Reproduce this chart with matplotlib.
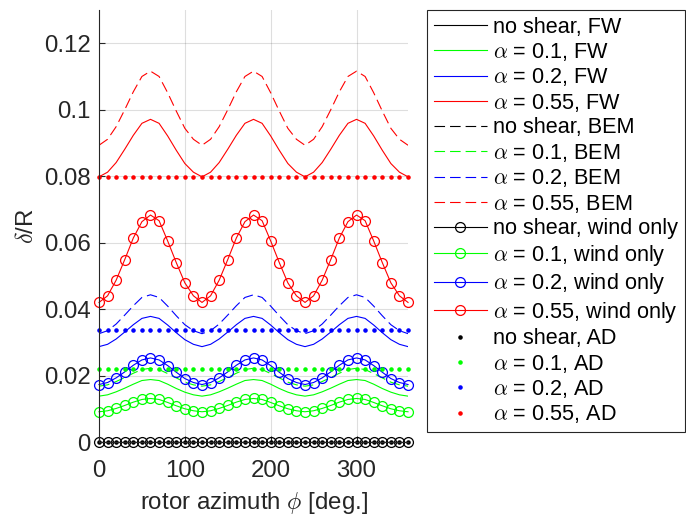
import numpy as np
import matplotlib
matplotlib.use("Agg")
import matplotlib.pyplot as plt

plt.rcParams['font.family'] = ['Liberation Sans', 'DejaVu Sans']
plt.rcParams['mathtext.fontset'] = 'cm'

# rotor azimuth [deg], one point every 10 deg
phi = np.arange(0, 361, 10)

no_shear = [0.0] * 37

fw_01 = [0.0138, 0.0142, 0.0151, 0.0162, 0.0174, 0.0185, 0.0188, 0.0185, 0.0174, 0.0161, 0.0150, 0.0142,
         0.0138, 0.0142, 0.0151, 0.0162, 0.0174, 0.0185, 0.0188, 0.0185, 0.0174, 0.0161, 0.0150, 0.0142,
         0.0138, 0.0142, 0.0151, 0.0162, 0.0174, 0.0185, 0.0188, 0.0185, 0.0174, 0.0161, 0.0150, 0.0142, 0.0138]
fw_02 = [0.0287, 0.0294, 0.0310, 0.0331, 0.0353, 0.0372, 0.0378, 0.0372, 0.0352, 0.0329, 0.0308, 0.0294,
         0.0287, 0.0294, 0.0310, 0.0331, 0.0353, 0.0372, 0.0378, 0.0372, 0.0352, 0.0329, 0.0308, 0.0294,
         0.0287, 0.0294, 0.0310, 0.0331, 0.0353, 0.0372, 0.0378, 0.0372, 0.0352, 0.0329, 0.0308, 0.0294, 0.0287]
fw_055 = [0.0798, 0.0812, 0.0841, 0.0881, 0.0923, 0.0959, 0.0971, 0.0959, 0.0921, 0.0878, 0.0838, 0.0812,
          0.0798, 0.0812, 0.0841, 0.0881, 0.0923, 0.0959, 0.0971, 0.0959, 0.0921, 0.0878, 0.0838, 0.0812,
          0.0798, 0.0812, 0.0841, 0.0881, 0.0923, 0.0959, 0.0971, 0.0959, 0.0921, 0.0878, 0.0838, 0.0812, 0.0798]

bem_01 = [0.0168, 0.0172, 0.0182, 0.0194, 0.0207, 0.0218, 0.0222, 0.0218, 0.0206, 0.0193, 0.0180, 0.0172,
          0.0168, 0.0172, 0.0182, 0.0194, 0.0207, 0.0218, 0.0222, 0.0218, 0.0206, 0.0193, 0.0180, 0.0172,
          0.0168, 0.0172, 0.0182, 0.0194, 0.0207, 0.0218, 0.0222, 0.0218, 0.0206, 0.0193, 0.0180, 0.0172, 0.0168]
bem_02 = [0.0326, 0.0335, 0.0355, 0.0382, 0.0410, 0.0435, 0.0443, 0.0435, 0.0409, 0.0380, 0.0353, 0.0335,
          0.0326, 0.0335, 0.0355, 0.0382, 0.0410, 0.0435, 0.0443, 0.0435, 0.0409, 0.0380, 0.0353, 0.0335,
          0.0326, 0.0335, 0.0355, 0.0382, 0.0410, 0.0435, 0.0443, 0.0435, 0.0409, 0.0380, 0.0353, 0.0335, 0.0326]
bem_055 = [0.0893, 0.0911, 0.0949, 0.1000, 0.1054, 0.1100, 0.1116, 0.1100, 0.1051, 0.0996, 0.0944, 0.0911,
           0.0893, 0.0911, 0.0949, 0.1000, 0.1054, 0.1100, 0.1116, 0.1100, 0.1051, 0.0996, 0.0944, 0.0911,
           0.0893, 0.0911, 0.0949, 0.1000, 0.1054, 0.1100, 0.1116, 0.1100, 0.1051, 0.0996, 0.0944, 0.0911, 0.0893]

wind_01 = [0.0091, 0.0094, 0.0101, 0.0110, 0.0120, 0.0128, 0.0131, 0.0128, 0.0119, 0.0109, 0.0100, 0.0094,
           0.0091, 0.0094, 0.0101, 0.0110, 0.0120, 0.0128, 0.0131, 0.0128, 0.0119, 0.0109, 0.0100, 0.0094,
           0.0091, 0.0094, 0.0101, 0.0110, 0.0120, 0.0128, 0.0131, 0.0128, 0.0119, 0.0109, 0.0100, 0.0094, 0.0091]
wind_02 = [0.0173, 0.0179, 0.0193, 0.0211, 0.0231, 0.0247, 0.0253, 0.0247, 0.0230, 0.0210, 0.0191, 0.0179,
           0.0173, 0.0179, 0.0193, 0.0211, 0.0231, 0.0247, 0.0253, 0.0247, 0.0230, 0.0210, 0.0191, 0.0179,
           0.0173, 0.0179, 0.0193, 0.0211, 0.0231, 0.0247, 0.0253, 0.0247, 0.0230, 0.0210, 0.0191, 0.0179, 0.0173]
wind_055 = [0.0420, 0.0440, 0.0487, 0.0549, 0.0614, 0.0663, 0.0683, 0.0666, 0.0605, 0.0540, 0.0479, 0.0440,
            0.0420, 0.0440, 0.0487, 0.0549, 0.0614, 0.0663, 0.0683, 0.0666, 0.0605, 0.0540, 0.0479, 0.0440,
            0.0420, 0.0440, 0.0487, 0.0549, 0.0614, 0.0663, 0.0683, 0.0666, 0.0605, 0.0540, 0.0479, 0.0440, 0.0420]

# actuator disc result: constant over azimuth
ad_levels = [0.0, 0.0221, 0.0338, 0.0796]

cases = ['no shear', r'$\alpha$ = 0.1', r'$\alpha$ = 0.2', r'$\alpha$ = 0.55']
colours = ['k', (0, 1, 0), (0, 0, 1), (1, 0, 0)]
fw = [no_shear, fw_01, fw_02, fw_055]
bem = [no_shear, bem_01, bem_02, bem_055]
wind = [no_shear, wind_01, wind_02, wind_055]

fig = plt.figure(figsize=(6.86, 5.16), dpi=100)
ax = fig.add_axes([0.1443, 0.1434, 0.4505, 0.8372])

lw = 0.8
for c, col, y in zip(cases, colours, fw):
    ax.plot(phi, y, '-', color=col, lw=lw, label=c + ', FW')
for c, col, y in zip(cases, colours, bem):
    ax.plot(phi, y, '--', color=col, lw=lw, dashes=(9.5, 4.5), label=c + ', BEM')
for c, col, y in zip(cases, colours, wind):
    ax.plot(phi, y, '-', color=col, lw=lw, marker='o', ms=7.1, mfc='none', mew=0.9,
            label=c + ', wind only', clip_on=False)
for c, col, lev in zip(cases, colours, ad_levels):
    ax.plot(phi, [lev] * len(phi), linestyle='none', color=col, marker='.', ms=4.5,
            label=c + ', AD', clip_on=False)

ax.set_xlim(0, 360)
ax.set_ylim(0, 0.13)
ax.set_xticks([0, 100, 200, 300])
ax.set_yticks([0, 0.02, 0.04, 0.06, 0.08, 0.1, 0.12])
ax.set_yticklabels(['0', '0.02', '0.04', '0.06', '0.08', '0.1', '0.12'])
ax.grid(True, color='#262626', alpha=0.15, lw=0.8)
ax.set_axisbelow(True)
for s in ['top', 'right']:
    ax.spines[s].set_visible(False)
for s in ['left', 'bottom']:
    ax.spines[s].set_color('#262626')
    ax.spines[s].set_linewidth(0.8)
ax.tick_params(direction='in', length=4, width=0.8, colors='#262626', labelsize=17.3, pad=6)
ax.tick_params(axis='x', pad=13)
ax.set_xlabel(r'rotor azimuth $\phi$ [deg.]', fontsize=17.3, color='#262626', labelpad=6)
ax.set_ylabel(r'$\delta$/R', fontsize=17.3, color='#262626', labelpad=4)

leg = fig.legend(loc='upper left', bbox_to_anchor=(427 / 686, 1 - 10 / 516), borderaxespad=0,
                 fontsize=15.6, handlelength=2.45, handletextpad=0.3, labelspacing=0.16,
                 borderpad=0.3, fancybox=False, framealpha=1, edgecolor='#262626')
leg.get_frame().set_linewidth(0.8)

fig.savefig('out.png', dpi=100)
